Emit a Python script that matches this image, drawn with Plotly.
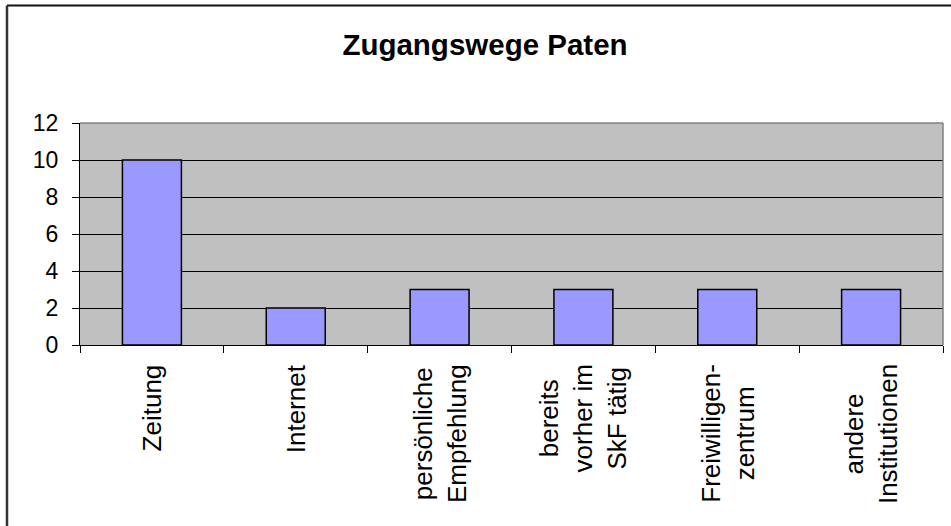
import plotly.graph_objects as go

categories = ["Zeitung", "Internet", "persönliche<br>Empfehlung", "bereits<br>vorher im<br>SkF tätig",
              "Freiwilligen-<br>zentrum", "andere<br>Institutionen"]
values = [10, 2, 3, 3, 3, 3]
y_ticks = [0, 2, 4, 6, 8, 10, 12]
title_text = "Zugangswege Paten"

W, H = 951, 526
L, R, T, B = 80, 8, 123, 181

fig = go.Figure(go.Bar(
    x=categories, y=values,
    marker=dict(color="#9999FF", line=dict(color="black", width=1.5)),
    width=0.41,
))

pw = W - L - R
ph = H - T - B

label_annotations = [
    dict(x=c, y=(H - B - 362) / ph, xref="x", yref="paper", text=c, showarrow=False,
         textangle=-90, xanchor="center", yanchor="top", align="center",
         font=dict(size=26, color="black"))
    for c in categories
]

fig.update_layout(
    width=W, height=H,
    margin=dict(l=L, r=R, t=T, b=B, pad=0, autoexpand=False),
    paper_bgcolor="white",
    plot_bgcolor="#C0C0C0",
    font=dict(family="Liberation Sans, Arial, sans-serif", color="black"),
    title=dict(text="<b>" + title_text + "</b>", x=485 / W, xref="container", xanchor="center",
               y=1 - 45 / H, yref="container", yanchor="middle",
               font=dict(size=29.5, color="black")),
    showlegend=False,
    bargap=0.59,
    xaxis=dict(
        type="category", tickson="boundaries", ticks="outside", ticklen=7, tickcolor="black",
        tickwidth=1, showline=True, linecolor="black", linewidth=1, showgrid=False,
        showticklabels=False, range=[-0.5, 5.5], automargin=False,
    ),
    yaxis=dict(
        range=[0, 12], tickvals=y_ticks, ticks="outside", ticklen=7, tickcolor="black",
        showline=True, linecolor="black", linewidth=1, showgrid=True, gridcolor="black",
        gridwidth=1, tickfont=dict(size=23), zeroline=False, ticklabelstandoff=9,
        automargin=False,
    ),
    annotations=label_annotations,
    shapes=[
        dict(type="line", xref="paper", yref="paper", x0=0, x1=1, y0=1, y1=1,
             line=dict(color="#808080", width=1.5), layer="above"),
        dict(type="line", xref="paper", yref="paper", x0=1, x1=1, y0=0, y1=1,
             line=dict(color="#808080", width=1.5), layer="above"),
        dict(type="line", xref="paper", yref="paper",
             x0=(7 - L) / pw, x1=1.2, y0=(H - B - 5.5) / ph, y1=(H - B - 5.5) / ph,
             line=dict(color="#111111", width=2), layer="above"),
        dict(type="line", xref="paper", yref="paper",
             x0=(7 - L) / pw, x1=(7 - L) / pw, y0=(H - B - 5.5) / ph, y1=-1.5,
             line=dict(color="#333333", width=2.5), layer="above"),
    ],
)

fig.write_html("out.html", config={"displayModeBar": False},
               post_script="document.body.style.margin='0';document.body.style.overflow='hidden';")
